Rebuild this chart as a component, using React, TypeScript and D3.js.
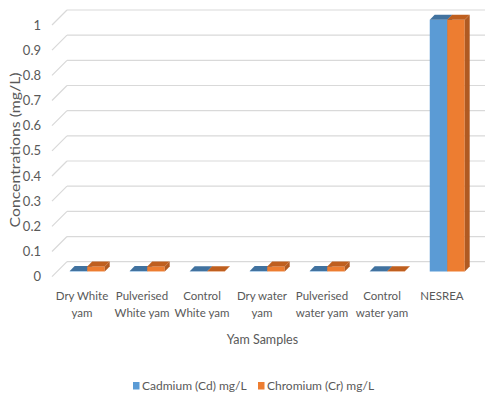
import React from "react";
import * as d3 from "d3";

// Yam samples and heavy-metal concentrations (mg/L)
const categories: string[][] = [
  ["Dry White", "yam"],
  ["Pulverised", "White yam"],
  ["Control", "White yam"],
  ["Dry water", "yam"],
  ["Pulverised", "water yam"],
  ["Control", "water yam"],
  ["NESREA"],
];
const seriesNames = ["Cadmium (Cd) mg/L", "Chromium (Cr) mg/L"];
const cadmium = [0.002, 0.002, 0.001, 0.002, 0.002, 0.001, 1];
const chromium = [0.02, 0.02, 0.001, 0.02, 0.02, 0.001, 1];
const yTicks = [0, 0.1, 0.2, 0.3, 0.4, 0.5, 0.6, 0.7, 0.8, 0.9, 1];

const W = 485;
const H = 397;
const DEPTH = 15; // wall depth offset (px, both x and y)
const FONT = "Lato, 'Open Sans', sans-serif";
const TEXT = "#595959";

const colors = [
  { front: "#5b9bd5", top: "#41729f", side: "#3f6d97" },
  { front: "#ed7d31", top: "#bf5f1f", side: "#b05a22" },
];

export default function App() {
  const keys = categories.map((c) => c.join(" "));
  const x = d3.scaleBand<string>().domain(keys).range([52, 472]).padding(0);
  const y = d3.scaleLinear().domain([0, 1]).range([276.7, 25]);
  const inner = d3
    .scaleBand<number>()
    .domain([0, 1])
    .range([-17.5, 17.5])
    .padding(0);
  const values = [cadmium, chromium];

  // depth-aware projection: d in [0,1] from front plane to back wall
  const P = (px: number, v: number, d: number) => [px + DEPTH * d, y(v) - DEPTH * d];
  const d0 = 0.35;
  const d1 = 0.68;
  const pts = (arr: number[][]) => arr.map((p) => p.join(",")).join(" ");

  const bars: React.ReactNode[] = [];
  keys.forEach((k, i) => {
    const cx = (x(k) ?? 0) + x.bandwidth() / 2;
    values.forEach((vals, s) => {
      const v = vals[i];
      const xl = cx + (inner(s) ?? 0);
      const xr = xl + inner.bandwidth();
      const c = colors[s];
      const front = [P(xl, 0, d0), P(xr, 0, d0), P(xr, v, d0), P(xl, v, d0)];
      const top = [P(xl, v, d0), P(xr, v, d0), P(xr, v, d1), P(xl, v, d1)];
      const side = [P(xr, 0, d0), P(xr, 0, d1), P(xr, v, d1), P(xr, v, d0)];
      bars.push(
        <g key={`${k}-${s}`}>
          <polygon points={pts(front)} fill={c.front} />
          <polygon points={pts(side)} fill={c.side} />
          <polygon points={pts(top)} fill={c.top} />
        </g>
      );
    });
  });

  return (
    <svg
      width={W}
      height={H}
      style={{ position: "absolute", left: 0, top: 0, background: "#fff" }}
      fontFamily={FONT}
    >
      {/* back wall gridlines and their depth diagonals */}
      {yTicks.map((t) => (
        <g key={t} stroke="#d9d9d9" strokeWidth={1.2} fill="none">
          <line x1={52 + DEPTH} x2={W} y1={y(t) - DEPTH} y2={y(t) - DEPTH} />
          <line x1={52} y1={y(t)} x2={52 + DEPTH} y2={y(t) - DEPTH} />
        </g>
      ))}
      {yTicks.map((t) => (
        <text
          key={`l${t}`}
          x={41}
          y={y(t) + 4.5}
          textAnchor="end"
          fontSize={13}
          fill={TEXT}
        >
          {d3.format("~g")(t)}
        </text>
      ))}
      {bars}
      {categories.map((lines, i) => {
        const cx = (x(keys[i]) ?? 0) + x.bandwidth() / 2;
        return (
          <text key={keys[i]} x={cx} y={300} textAnchor="middle" fontSize={11.5} fill={TEXT}>
            {lines.map((ln, j) => (
              <tspan key={j} x={cx} dy={j === 0 ? 0 : 17}>
                {ln}
              </tspan>
            ))}
          </text>
        );
      })}
      <text x={262.5} y={344} textAnchor="middle" fontSize={12.5} fill={TEXT}>
        Yam Samples
      </text>
      <text
        transform="translate(19.5,150) rotate(-90)"
        textAnchor="middle"
        fontSize={13.5}
        fill={TEXT}
        textLength={155}
        lengthAdjust="spacingAndGlyphs"
      >
        Concentrations (mg/L)
      </text>
      {/* legend */}
      {seriesNames.map((name, s) => {
        const lx = s === 0 ? 133 : 258;
        return (
          <g key={name}>
            <rect x={lx} y={382} width={6.5} height={7.5} fill={colors[s].front} />
            <text x={lx + 9} y={390} fontSize={12} fill={TEXT}>
              {name}
            </text>
          </g>
        );
      })}
    </svg>
  );
}
